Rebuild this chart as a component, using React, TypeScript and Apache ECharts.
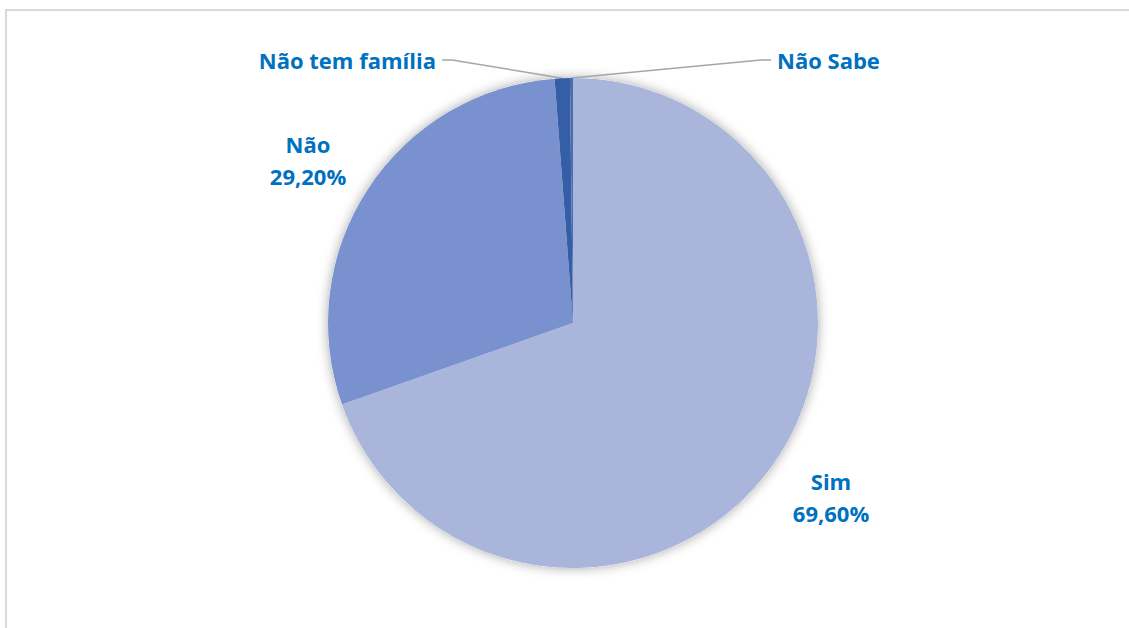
import React, { useEffect, useRef } from "react";
import * as echarts from "echarts";

const categories = ["Sim", "Não", "Não tem família", "Não Sabe"];
const values = [69.6, 29.2, 1.0, 0.2];
const colors = ["#A9B5DB", "#7A91CF", "#355EA6", "#4A6DB0"];
const showPercent = [true, true, false, false];

export default function App() {
  const ref = useRef<HTMLDivElement>(null);
  useEffect(() => {
    const chart = echarts.init(ref.current!, null, { renderer: "svg" });
    const cx = 573, cy = 323, r = 245;
    const labelPos = [
      { x: 831, y: 497, align: "center" },
      { x: 308, y: 160, align: "center" },
      { x: 442, y: 60, align: "right" },
      { x: 771, y: 60, align: "left" },
    ];
    chart.setOption({
      animation: false,
      backgroundColor: "#ffffff",
      graphic: [
        {
          type: "rect",
          silent: true,
          shape: { x: 6, y: 10, width: 1200, height: 700 },
          style: { fill: "none", stroke: "#D9D9D9", lineWidth: 2 },
        },
      ],
      series: [
        {
          type: "pie",
          silent: true,
          z: 1,
          center: [cx, cy],
          radius: r,
          label: { show: false },
          labelLine: { show: false },
          itemStyle: { color: "#ffffff", shadowBlur: 12, shadowColor: "rgba(0,0,0,0.35)" },
          data: [{ value: 1, name: "" }],
        },
        {
          type: "pie",
          z: 2,
          center: [cx, cy],
          radius: r,
          startAngle: 90,
          clockwise: true,
          avoidLabelOverlap: false,
          itemStyle: { borderWidth: 0 },
          data: categories.map((name, i) => ({
            name,
            value: values[i],
            itemStyle: { color: colors[i] },
            labelLine: { show: !showPercent[i] },
            label: { padding: showPercent[i] ? 0 : [0, 6] },
          })),
          label: {
            show: true,
            position: "outside",
            fontFamily: "Open Sans",
            fontWeight: "bold",
            fontSize: 22,
            color: "#0070C0",
            lineHeight: 32,
            formatter: (p: any) =>
              showPercent[p.dataIndex]
                ? p.name + "\n" + Number(p.value).toFixed(2).replace(".", ",") + "%"
                : p.name,
          },
          labelLine: {
            length: 10,
            length2: 10,
            lineStyle: { color: "#A6A6A6", width: 1.5 },
          },
          labelLayout: (params: any) => {
            const p = labelPos[params.dataIndex];
            return { x: p.x, y: p.y, align: p.align, verticalAlign: "middle", hideOverlap: false };
          },
        },
      ],
    });
    return () => chart.dispose();
  }, []);
  return (
    <div style={{ position: "fixed", left: 0, top: 0 }}>
      <div ref={ref} style={{ width: 1129, height: 628 }} />
    </div>
  );
}
